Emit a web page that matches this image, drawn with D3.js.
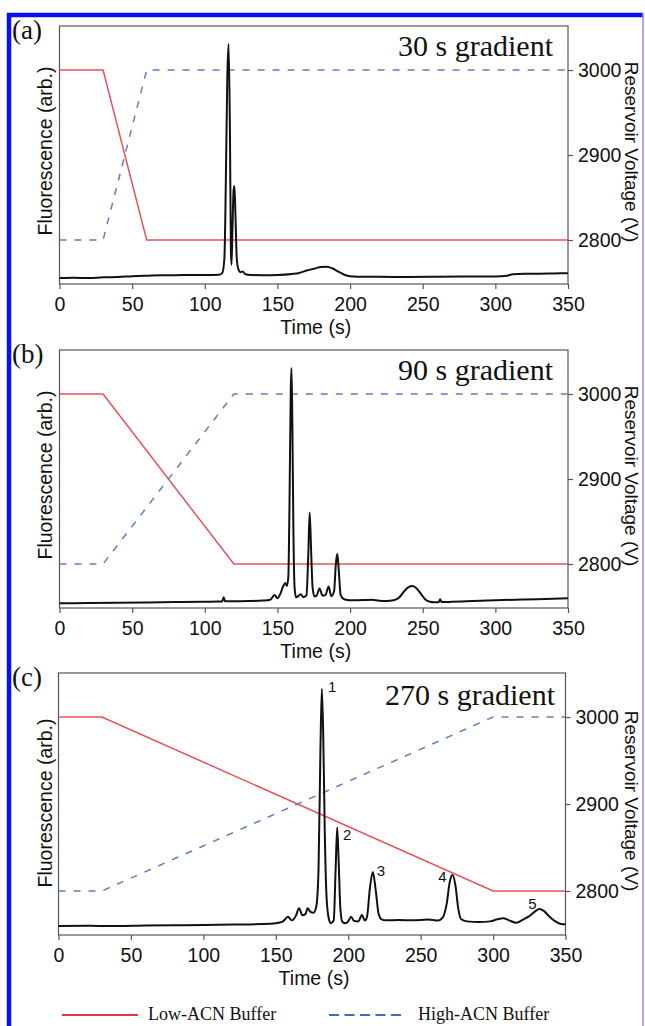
<!DOCTYPE html>
<html>
<head>
<meta charset="utf-8">
<script src="https://cdn.jsdelivr.net/npm/d3@7/dist/d3.min.js"></script>
<style>
  body { margin: 0; background: #fff; }
  svg { display: block; }
</style>
</head>
<body>
<div id="chart"></div>
<script>
// tick values shared by the three panels
var timeTicks = [0, 50, 100, 150, 200, 250, 300, 350];
var voltTicks = [2800, 2900, 3000];

// panel names and the gradient titles
var panelTags = ['(a)', '(b)', '(c)'];
var gradientTitles = ['30 s gradient', '90 s gradient', '270 s gradient'];

// reservoir voltage programmes (time s, volts)
var lowTimeA = [0, 30, 60, 350],  lowVoltA = [3000, 3000, 2800, 2800];
var highTimeA = [0, 30, 60, 350], highVoltA = [2800, 2800, 3000, 3000];
var lowTimeB = [0, 30, 120, 350],  lowVoltB = [3000, 3000, 2800, 2800];
var highTimeB = [0, 30, 120, 350], highVoltB = [2800, 2800, 3000, 3000];
var lowTimeC = [0, 30, 300, 350],  lowVoltC = [3000, 3000, 2800, 2800];
var highTimeC = [0, 30, 300, 350], highVoltC = [2800, 2800, 3000, 3000];

// fluorescence traces, arbitrary units (0 = axis line, 100 = top of frame)
var sigTimeA = [0, 10, 20, 30, 40, 50, 60, 70, 80, 90, 100, 110, 112, 113.5, 114.5, 115.5, 116.4, 117.3, 118, 118.4,
  119, 119.8, 120.4, 121.2, 122, 123, 124.5, 126, 128, 132, 140, 150, 160, 165, 170, 175, 180, 184, 188, 192,
  196, 200, 210, 220, 240, 260, 280, 300, 308, 312, 320, 330, 340, 350];
var sigValA = [2.3, 2.4, 2.3, 2.6, 2.7, 3.0, 3.2, 3.4, 3.4, 3.5, 3.5, 3.6, 4.2, 10, 40, 80, 93, 60, 12, 7.5,
  20, 36, 38, 25, 10, 6, 4.6, 4.8, 3.8, 3.5, 3.4, 3.5, 3.9, 4.3, 5.2, 5.9, 6.6, 6.7, 6.0, 4.8,
  3.6, 3.0, 2.8, 2.8, 2.7, 2.8, 2.9, 2.9, 3.2, 3.8, 4.0, 4.0, 4.1, 4.2];

var sigTimeB = [0, 20, 40, 60, 80, 100, 110, 112, 113, 114, 120, 130, 140, 145, 148, 150, 152, 154, 155.5, 156.5,
  157.5, 158.3, 159.2, 159.7, 160.3, 161, 161.8, 162.8, 164, 166, 168, 170, 171.2, 172.2, 173.2, 174.2, 175.5, 177, 179, 181,
  183, 185.3, 187, 189, 190.2, 191.2, 192.3, 193.5, 196, 200, 210, 215, 220, 225, 230, 234, 237, 240, 243, 246,
  249, 252, 255, 258, 261, 262, 263, 270, 280, 300, 320, 340, 350];
var sigValB = [1.8, 1.9, 2.0, 2.1, 2.3, 2.4, 2.5, 2.6, 4.2, 2.6, 2.6, 2.7, 2.9, 3.2, 5.0, 3.8, 5.5, 8.5, 9.7, 8.5,
  12, 40, 85, 93, 70, 30, 8, 4.2, 4.4, 5.3, 4.2, 5.0, 20, 37, 22, 8, 4.5, 4.8, 7.6, 4.8,
  5.0, 8.3, 4.6, 6.5, 17, 21, 14, 5, 3.4, 3.0, 3.1, 3.2, 2.8, 2.7, 3.0, 4.2, 6.3, 8.0, 8.5, 7.5,
  5.3, 3.2, 2.4, 2.2, 2.2, 3.4, 2.3, 2.4, 2.6, 3.0, 3.3, 3.6, 3.8];

var sigTimeC = [0, 20, 40, 60, 80, 100, 120, 140, 150, 155, 158.4, 161, 164, 166, 168.5, 170.5, 172, 174, 176, 178,
  179.5, 180.8, 181.8, 182.8, 183.8, 185, 186.5, 188, 190, 191.3, 192.4, 193.4, 194.6, 196, 198, 200, 202, 204, 207, 209.5,
  211.5, 213, 215, 217, 219, 221, 223, 226, 235, 245, 255, 262, 265, 268, 270, 272, 274, 276, 278, 282,
  290, 298, 303, 307, 311, 316, 321, 325, 329, 332, 335, 339, 343, 347, 350];
var sigValC = [3.4, 3.5, 3.4, 3.6, 3.7, 3.8, 4.0, 4.2, 4.5, 5.2, 7.0, 5.6, 7.5, 10.2, 7.5, 8.0, 10.2, 8.8, 8.5, 11,
  25, 70, 94, 75, 40, 15, 6.5, 4.5, 5.5, 25, 41, 28, 10, 5.0, 4.5, 5.2, 7.0, 5.3, 5.2, 7.6,
  5.5, 7.0, 18, 24, 17, 8, 6, 5.6, 5.7, 5.6, 5.9, 5.5, 6.5, 12, 20, 22.9, 19, 10, 6, 5.2,
  5.0, 5.2, 6.0, 6.4, 5.6, 4.7, 6.0, 7.2, 9.0, 9.9, 9.2, 7.0, 5.2, 4.2, 4.1];

// numbered peaks in panel (c)
var peakNames = ['1', '2', '3', '4', '5'];
var peakTimes = [182, 192.4, 217, 272, 332];
var peakHeights = [94, 41, 24, 22.9, 9.9];

// legend entries
var legendNames = ['Low-ACN Buffer', 'High-ACN Buffer'];

var totalWidth = 645;
var totalHeight = 1026;

var red = '#e5535b';
var blue = '#5b7fc4';
var axisColor = '#555';
var sansFont = '"Liberation Sans", Arial, sans-serif';
var serifFont = '"Liberation Serif", "Times New Roman", serif';

function zip(a, b) {
  return a.map(function(d, i) { return [d, b[i]]; });
}

// frame boxes for each panel (pixels)
var frames = [
  {left: 59.5, right: 568, top: 26, bottom: 284},
  {left: 59.5, right: 568, top: 350, bottom: 608},
  {left: 58.5, right: 565.5, top: 673, bottom: 935}
];

var panels = [
  {low: zip(lowTimeA, lowVoltA), high: zip(highTimeA, highVoltA), sig: zip(sigTimeA, sigValA)},
  {low: zip(lowTimeB, lowVoltB), high: zip(highTimeB, highVoltB), sig: zip(sigTimeB, sigValB)},
  {low: zip(lowTimeC, lowVoltC), high: zip(highTimeC, highVoltC), sig: zip(sigTimeC, sigValC)}
];

var svg = d3.select('#chart')
  .append('svg')
    .attr('width', totalWidth)
    .attr('height', totalHeight)
    .attr('viewBox', '0 0 ' + totalWidth + ' ' + totalHeight);

svg.append('rect').attr('width', totalWidth).attr('height', totalHeight).attr('fill', '#fff');

panels.forEach(function(p, i) {
  var f = frames[i];
  var g = svg.append('g');

  var x = d3.scaleLinear().domain([0, 350]).range([f.left, f.right]);
  var yF = d3.scaleLinear().domain([0, 100]).range([f.bottom, f.top]);
  var yV = d3.scaleLinear().domain([2800, 3000]).range([f.bottom - 44, f.top + 44]);

  // frame
  g.append('rect')
    .attr('x', f.left).attr('y', f.top)
    .attr('width', f.right - f.left).attr('height', f.bottom - f.top)
    .attr('fill', 'none').attr('stroke', axisColor).attr('stroke-width', 1.2);

  var vLine = d3.line().x(function(d) { return x(d[0]); }).y(function(d) { return yV(d[1]); });
  var sLine = d3.line().x(function(d) { return x(d[0]); }).y(function(d) { return yF(d[1]); })
    .curve(d3.curveMonotoneX);

  g.append('path').datum(p.low)
    .attr('d', vLine).attr('fill', 'none').attr('stroke', red).attr('stroke-width', 1.5);
  g.append('path').datum(p.high)
    .attr('d', vLine).attr('fill', 'none').attr('stroke', blue).attr('stroke-width', 1.5)
    .attr('stroke-dasharray', '7,8');
  g.append('path').datum(p.sig)
    .attr('d', sLine).attr('fill', 'none').attr('stroke', '#111').attr('stroke-width', 2)
    .attr('stroke-linejoin', 'round');

  // bottom axis
  var xAxis = d3.axisBottom(x).tickValues(timeTicks).tickSize(5).tickPadding(8).tickSizeOuter(0);
  var gx = g.append('g')
    .attr('transform', 'translate(0,' + f.bottom + ')')
    .call(xAxis);
  gx.select('.domain').remove();
  gx.selectAll('line').attr('stroke', axisColor).attr('stroke-width', 1.2);
  gx.selectAll('text').attr('font-family', sansFont).attr('font-size', 19.5).attr('fill', '#111');

  // right axis
  var vAxis = d3.axisRight(yV).tickValues(voltTicks).tickSize(5).tickPadding(5)
    .tickFormat(d3.format('d'));
  var gv = g.append('g')
    .attr('transform', 'translate(' + f.right + ',0)')
    .call(vAxis);
  gv.select('.domain').remove();
  gv.selectAll('line').attr('stroke', axisColor).attr('stroke-width', 1.2);
  gv.selectAll('text').attr('font-family', sansFont).attr('font-size', 19.5).attr('fill', '#111');

  // axis titles
  g.append('text')
    .attr('x', (f.left + f.right) / 2 + 2).attr('y', f.bottom + 50)
    .attr('text-anchor', 'middle')
    .attr('font-family', sansFont).attr('font-size', 19.5).attr('fill', '#111')
    .text('Time (s)');

  var midY = (f.top + f.bottom) / 2;
  g.append('text')
    .attr('transform', 'translate(52,' + (midY - (i == 2 ? 1 : 4)) + ') rotate(-90)')
    .attr('text-anchor', 'middle')
    .attr('font-family', sansFont).attr('font-size', 19.5).attr('fill', '#111')
    .text('Fluorescence (arb.)');

  g.append('text')
    .attr('transform', 'translate(625,' + (midY - 3) + ') rotate(90)')
    .attr('text-anchor', 'middle')
    .attr('font-family', sansFont).attr('font-size', 19).attr('fill', '#111')
    .text('Reservoir Voltage (V)');

  // panel tag and gradient title
  g.append('text')
    .attr('x', 12).attr('y', f.top + 13)
    .attr('font-family', serifFont).attr('font-size', 27).attr('fill', '#111')
    .text(panelTags[i]);

  g.append('text')
    .attr('x', i == 2 ? 555 : 553).attr('y', f.top + (i == 2 ? 32 : 30))
    .attr('text-anchor', 'end')
    .attr('font-family', serifFont).attr('font-size', 30).attr('fill', '#111')
    .text(gradientTitles[i]);

  // numbered peaks in (c)
  if (i == 2) {
    var offs = [[10, 3], [10, 12], [8, 4], [-10, 7], [-7, 0]];
    g.selectAll('.peak').data(peakNames).enter().append('text')
      .attr('class', 'peak')
      .attr('x', function(d, k) { return x(peakTimes[k]) + offs[k][0]; })
      .attr('y', function(d, k) { return yF(peakHeights[k]) + offs[k][1]; })
      .attr('text-anchor', 'middle')
      .attr('font-family', sansFont).attr('font-size', 15).attr('fill', '#111')
      .text(function(d) { return d; });
  }
});

// legend
var lg = svg.append('g');
lg.append('line').attr('x1', 62).attr('x2', 138).attr('y1', 1015).attr('y2', 1015)
  .attr('stroke', '#e03a45').attr('stroke-width', 2);
lg.append('text').attr('x', 148).attr('y', 1020)
  .attr('font-family', serifFont).attr('font-size', 18).attr('fill', '#111')
  .text(legendNames[0]);
lg.append('line').attr('x1', 329).attr('x2', 401).attr('y1', 1015).attr('y2', 1015)
  .attr('stroke', '#3f6cc0').attr('stroke-width', 2).attr('stroke-dasharray', '10,5.5');
lg.append('text').attr('x', 418).attr('y', 1020)
  .attr('font-family', serifFont).attr('font-size', 18).attr('fill', '#111')
  .text(legendNames[1]);

// blue border of the figure
svg.append('rect').attr('x', 643).attr('y', 0).attr('width', 2).attr('height', totalHeight).attr('fill', '#fff');
svg.append('line').attr('x1', 7).attr('x2', 643).attr('y1', 15).attr('y2', 15)
  .attr('stroke', '#0a10f5').attr('stroke-width', 4.5);
svg.append('line').attr('x1', 9).attr('x2', 9).attr('y1', 13).attr('y2', totalHeight)
  .attr('stroke', '#0a10f5').attr('stroke-width', 4.5);
svg.append('line').attr('x1', 643).attr('x2', 643).attr('y1', 13).attr('y2', totalHeight)
  .attr('stroke', '#8c8cff').attr('stroke-width', 1.5);
</script>
</body>
</html>
